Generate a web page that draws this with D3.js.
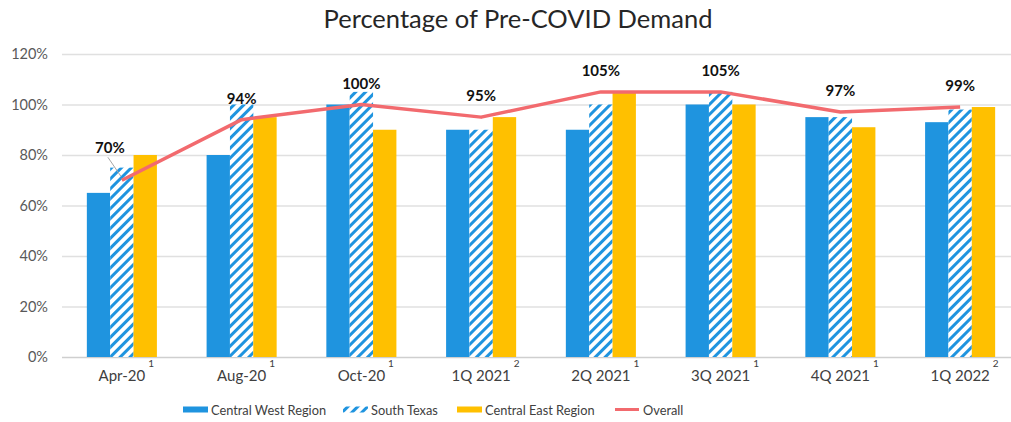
<!DOCTYPE html>
<html>
<head>
<meta charset="utf-8">
<script src="https://cdn.jsdelivr.net/npm/d3@7"></script>
<style>
  body { margin: 0; background: #fff; }
  svg { font-family: Lato, "Open Sans", sans-serif; }
</style>
</head>
<body>
<div id="container"></div>
<script>
const periods = ["Apr-20", "Aug-20", "Oct-20", "1Q 2021", "2Q 2021", "3Q 2021", "4Q 2021", "1Q 2022"];
const notes = ["1", "1", "1", "2", "1", "1", "1", "2"];
const centralWest = [65, 80, 100, 90, 90, 100, 95, 93];
const southTexas = [75, 100, 105, 90, 100, 105, 95, 98];
const centralEast = [80, 95, 90, 95, 105, 100, 91, 99];
const overall = [70, 94, 100, 95, 105, 105, 97, 99];
const yTicks = [0, 20, 40, 60, 80, 100, 120];

const w = 1011;
const h = 422;
const padLeft = 62;
const padTop = 54;
const baseY = 357;

const blue = '#1f94df';
const yellow = '#ffc000';
const red = '#f26a6e';

const svg = d3.select('#container')
    .append('svg')
    .attr('width', w)
    .attr('height', h);

// hatch pattern for South Texas
const defs = svg.append('defs');
const pat = defs.append('pattern')
    .attr('id', 'hatch')
    .attr('patternUnits', 'userSpaceOnUse')
    .attr('width', 7)
    .attr('height', 7)
    .attr('patternTransform', 'rotate(45)');
pat.append('rect').attr('width', 7).attr('height', 7).attr('fill', '#fff');
pat.append('rect').attr('x', 0).attr('width', 3).attr('height', 7).attr('fill', blue);

const x = d3.scaleBand()
    .domain(periods)
    .range([padLeft, 1020])
    .paddingInner(0.415)
    .paddingOuter(0.2075);

const series = [
  { name: 'Central West Region', values: centralWest, fill: blue },
  { name: 'South Texas', values: southTexas, fill: 'url(#hatch)' },
  { name: 'Central East Region', values: centralEast, fill: yellow }
];

const xs = d3.scaleBand()
    .domain(series.map(s => s.name))
    .range([0, x.bandwidth()]);

const y = d3.scaleLinear()
    .domain([0, 120])
    .range([baseY, padTop]);

// title
svg.append('text')
    .attr('x', 518)
    .attr('y', 28)
    .attr('text-anchor', 'middle')
    .attr('font-size', 25.5)
    .attr('fill', '#262626')
    .text('Percentage of Pre-COVID Demand');

// grid
svg.append('g')
    .selectAll('line')
    .data(yTicks)
    .enter()
    .append('line')
    .attr('x1', padLeft)
    .attr('x2', w)
    .attr('y1', d => y(d) + 0.5)
    .attr('y2', d => y(d) + 0.5)
    .attr('stroke', d => d === 0 ? '#cfcfcf' : '#e0e0e0')
    .attr('stroke-width', 1.5);

// y labels
svg.append('g')
    .selectAll('text')
    .data(yTicks)
    .enter()
    .append('text')
    .attr('x', 48)
    .attr('y', d => y(d) + 5)
    .attr('text-anchor', 'end')
    .attr('font-size', 14.5)
    .attr('fill', '#595959')
    .text(d => d + '%');

// bars
series.forEach(s => {
  svg.append('g')
      .selectAll('rect')
      .data(s.values)
      .enter()
      .append('rect')
      .attr('x', (d, i) => x(periods[i]) + xs(s.name))
      .attr('y', d => y(d))
      .attr('width', xs.bandwidth())
      .attr('height', d => y(0) - y(d))
      .attr('fill', s.fill);
});

// overall line
const cx = i => x(periods[i]) + x.bandwidth() / 2;
const line = d3.line()
    .x((d, i) => cx(i))
    .y(d => y(d));

svg.append('path')
    .datum(overall)
    .attr('d', line)
    .attr('fill', 'none')
    .attr('stroke', red)
    .attr('stroke-width', 3.5)
    .attr('stroke-linejoin', 'round');

// value labels (first one pushed up-left with a leader line)
const labels = svg.append('g');
overall.forEach((v, i) => {
  const dx = i === 0 ? -12 : 0;
  const dy = i === 0 ? -27 : -16;
  if (i === 0) {
    labels.append('line')
        .attr('x1', cx(i) - 14)
        .attr('y1', y(v) - 23)
        .attr('x2', cx(i) - 1)
        .attr('y2', y(v) - 4)
        .attr('stroke', '#a6a6a6')
        .attr('stroke-width', 1);
  }
  labels.append('text')
      .attr('x', cx(i) + dx)
      .attr('y', y(v) + dy)
      .attr('text-anchor', 'middle')
      .attr('font-size', 15)
      .attr('font-weight', 'bold')
      .attr('fill', '#111')
      .text(v + '%');
});

// x labels with footnote marks
const xl = svg.append('g');
periods.forEach((p, i) => {
  const t = xl.append('text')
      .attr('x', cx(i))
      .attr('y', 381)
      .attr('text-anchor', 'middle')
      .attr('font-size', 15)
      .attr('fill', '#404040')
      .text(p);
  const tw = t.node().getComputedTextLength();
  xl.append('text')
      .attr('x', cx(i) + tw / 2 + 3)
      .attr('y', 367)
      .attr('font-size', 10)
      .attr('fill', '#404040')
      .text(notes[i]);
});

// legend
const legendItems = [
  { name: 'Central West Region', type: 'bar', fill: blue, x: 183 },
  { name: 'South Texas', type: 'bar', fill: 'url(#hatch)', x: 343 },
  { name: 'Central East Region', type: 'bar', fill: yellow, x: 457 },
  { name: 'Overall', type: 'line', fill: red, x: 615 }
];
const legend = svg.append('g').attr('id', 'legend');
legendItems.forEach(it => {
  if (it.type === 'bar') {
    legend.append('rect')
        .attr('x', it.x)
        .attr('y', 406.5)
        .attr('width', 25)
        .attr('height', 6)
        .attr('fill', it.fill);
  } else {
    legend.append('line')
        .attr('x1', it.x)
        .attr('x2', it.x + 24)
        .attr('y1', 409.5)
        .attr('y2', 409.5)
        .attr('stroke', it.fill)
        .attr('stroke-width', 3);
  }
  legend.append('text')
      .attr('x', it.x + 28)
      .attr('y', 415)
      .attr('font-size', 12.8)
      .attr('fill', '#404040')
      .text(it.name);
});
</script>
</body>
</html>
